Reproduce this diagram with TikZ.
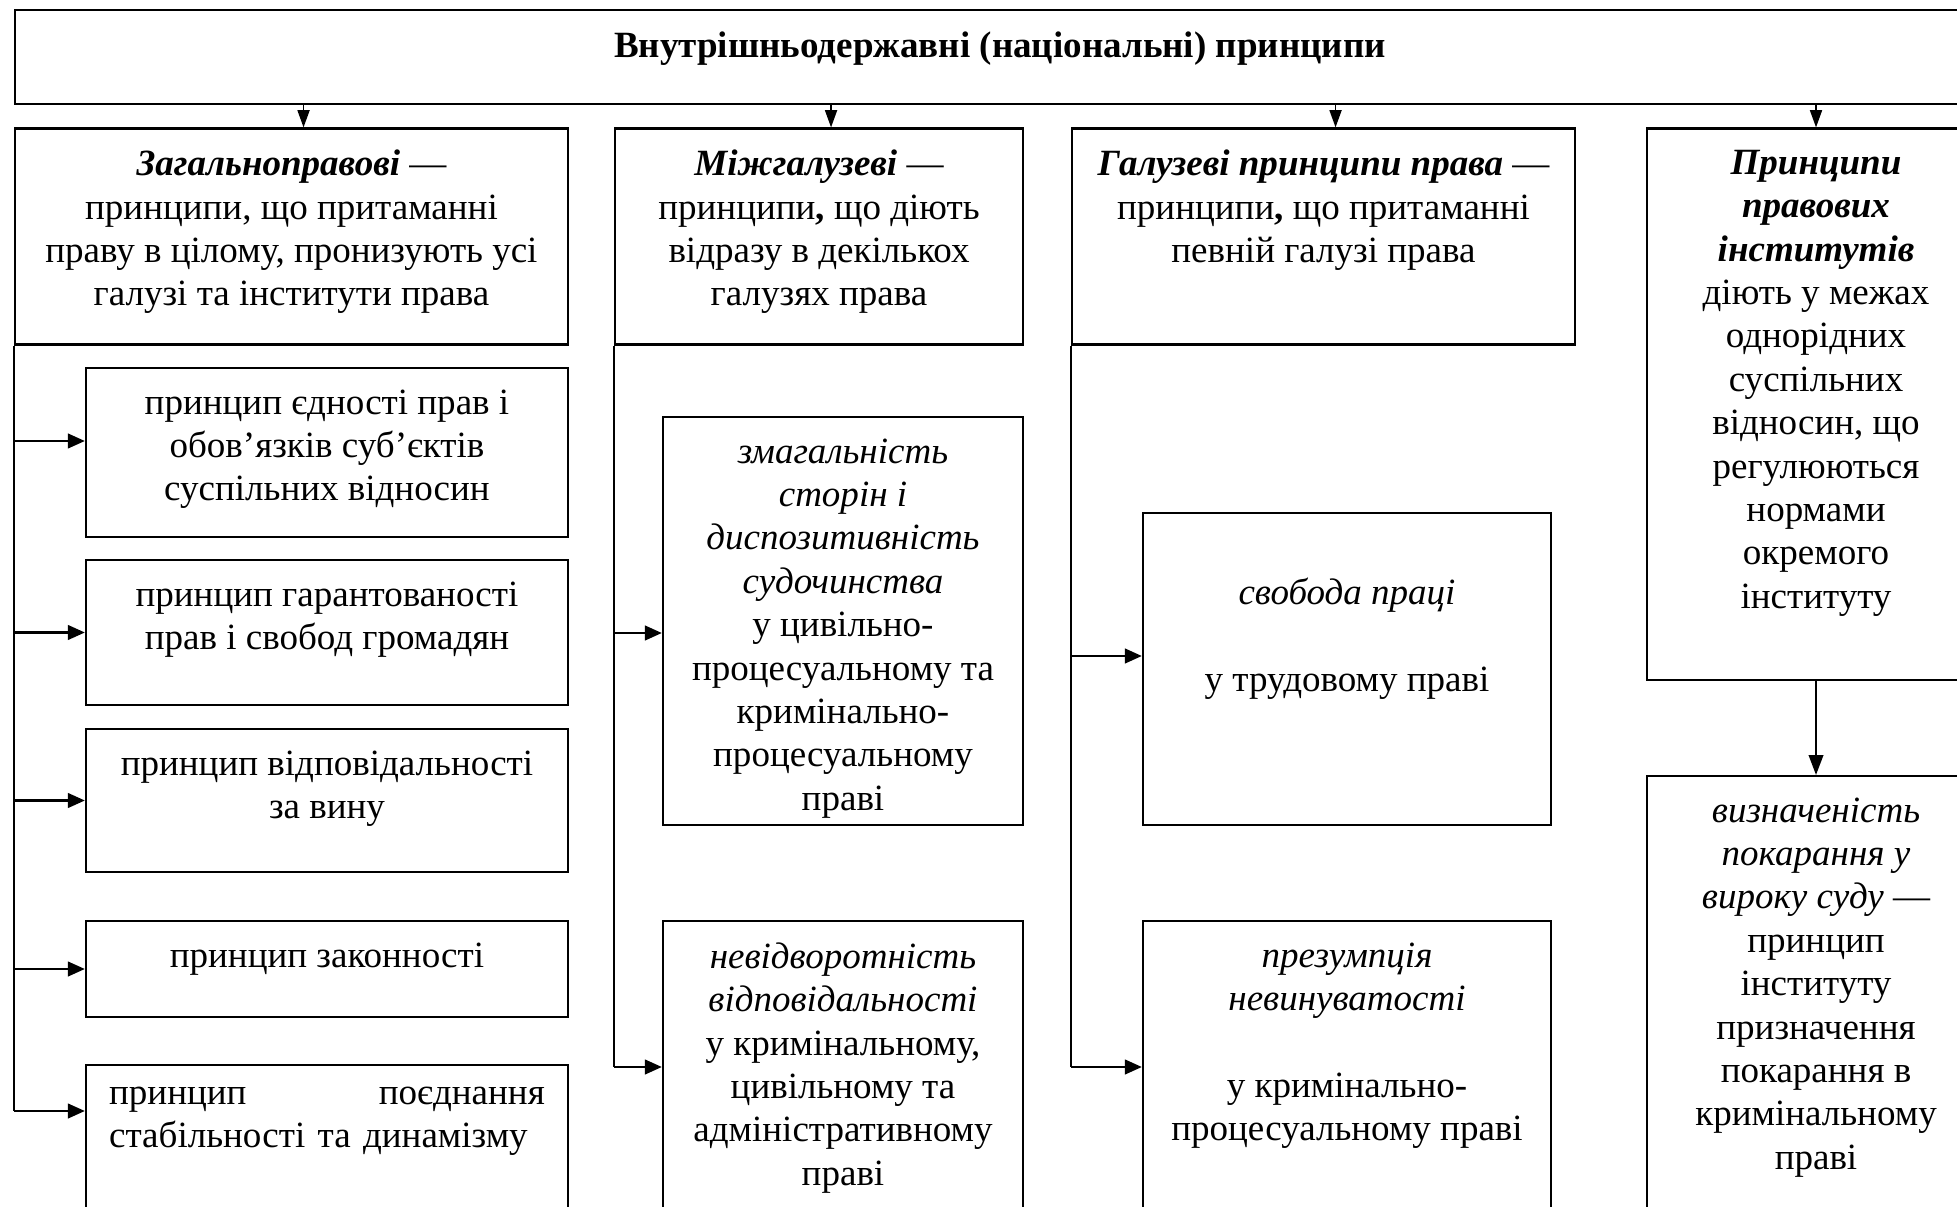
\documentclass[tikz,border=0pt]{standalone}
\usepackage{fontspec}
\setmainfont{Liberation Serif}
\usetikzlibrary{fit,arrows.meta}

\begin{document}
\begin{tikzpicture}[x=0.013286cm, y=-0.013286cm,
  box/.style={draw, line width=0.8pt, inner sep=0pt},
  txt/.style={inner sep=0pt, align=center, anchor=north, yshift=-8.4pt, font=\fontsize{14}{16.4}\selectfont},
  trunk/.style={line width=0.8pt},
  varr/.style={line width=0.7pt, -{Triangle[length=6.5pt,width=4.5pt]}},
  harr/.style={line width=1.1pt, -{Triangle[length=6.5pt,width=5.5pt]}}]
  \useasboundingbox (0,0) rectangle (1957,1207);
  \clip (0,0) rectangle (1957,1207);
  % header
  \node[box, fit={(15,10) (1985,104)}] (top) {};
  \node[txt] (topT) at (top.north) {\textbf{Внутрішньодержавні (національні) принципи}};
  % first row
  \node[box, fit={(15,128.5) (568,344.5)}] (gen) {};
  \node[box, fit={(615,128.5) (1023,344.5)}] (mizh) {};
  \node[box, fit={(1072,128.5) (1575,344.5)}] (gal) {};
  \node[box, fit={(1647,128.5) (1985,680)}] (inst) {};
  \node[txt] (genT) at (gen.north) {\textbf{\textit{Загальноправові}} —\\принципи, що притаманні\\праву в цілому, пронизують усі\\галузі та інститути права};
  \node[txt] (mizhT) at (mizh.north) {\textbf{\textit{Міжгалузеві}} —\\принципи\textbf{,} що діють\\відразу в декількох\\галузях права};
  \node[txt] (galT) at (gal.north) {\textbf{\textit{Галузеві принципи права}} —\\принципи\textbf{,} що притаманні\\певній галузі права};
  \node[txt] (instT) at (inst.north) {\textbf{\textit{Принципи}}\\\textbf{\textit{правових}}\\\textbf{\textit{інститутів}}\\діють у межах\\однорідних\\суспільних\\відносин, що\\регулюються\\нормами\\окремого\\інституту};
  % general principles
  \node[box, fit={(86,368) (568,537)}] (a1) {};
  \node[box, fit={(86,560) (568,705)}] (a2) {};
  \node[box, fit={(86,729) (568,872)}] (a3) {};
  \node[box, fit={(86,921) (568,1017)}] (a4) {};
  \node[box, fit={(86,1065) (568,1230)}] (a5) {};
  \node[txt] (a1T) at (a1.north) {принцип єдності прав і\\обов’язків суб’єктів\\суспільних відносин};
  \node[txt] (a2T) at (a2.north) {принцип гарантованості\\прав і свобод громадян};
  \node[txt] (a3T) at (a3.north) {принцип відповідальності\\за вину};
  \node[txt] (a4T) at (a4.north) {принцип законності};
  \node[txt, text width=5.79cm, align=left] (a5T) at (a5.north) {принцип \hfill поєднання\\стабільності та динамізму};
  % cross-branch principles
  \node[box, fit={(663,417) (1023,825)}] (b1) {};
  \node[box, fit={(663,921) (1023,1230)}] (b2) {};
  \node[txt] (b1T) at (b1.north) {\textit{змагальність}\\\textit{сторін і}\\\textit{диспозитивність}\\\textit{судочинства}\\у цивільно-\\процесуальному та\\кримінально-\\процесуальному\\праві};
  \node[txt] (b2T) at (b2.north) {\textit{невідворотність}\\\textit{відповідальності}\\у кримінальному,\\цивільному та\\адміністративному\\праві};
  % branch principles
  \node[box, fit={(1143,513) (1551,825)}] (c1) {};
  \node[box, fit={(1143,921) (1551,1230)}] (c2) {};
  \node[txt, yshift=-16.4pt] (c1T) at (c1.north) {\textit{свобода праці}\\[16.4pt]у трудовому праві};
  \node[txt] (c2T) at (c2.north) {\textit{презумпція}\\\textit{невинуватості}\\[16.4pt]у кримінально-\\процесуальному праві};
  % institute principles
  \node[box, fit={(1647,776) (1985,1230)}] (d2) {};
  \node[txt] (d2T) at (d2.north) {\textit{визначеність}\\\textit{покарання у}\\\textit{вироку суду} —\\принцип\\інституту\\призначення\\покарання в\\кримінальному\\праві};

  % arrows from header
  \coordinate (genIn) at ([xshift=0.16cm]gen.north);
  \coordinate (mizhIn) at ([xshift=0.16cm]mizh.north);
  \coordinate (galIn) at ([xshift=0.16cm]gal.north);
  \draw[varr] (genIn |- top.south) -- (genIn);
  \draw[varr] (mizhIn |- top.south) -- (mizhIn);
  \draw[varr] (galIn |- top.south) -- (galIn);
  \draw[varr] (inst.north |- top.south) -- (inst.north);
  \draw[varr, -{Triangle[length=7.5pt,width=5.5pt]}] (inst.south) -- (d2.north);

  % column trunks
  \coordinate (a1y) at (0,441);
  \coordinate (a5y) at (0,1111);
  \coordinate (b1y) at (0,633);
  \coordinate (b2y) at (0,1067);
  \coordinate (c1y) at (0,656);
  \coordinate (c2y) at (0,1067);
  \draw[trunk] (gen.south west) -- (gen.south west |- a5y);
  \draw[trunk] (mizh.south west) -- (mizh.south west |- b2y);
  \draw[trunk] (gal.south west) -- (gal.south west |- c2y);

  \draw[harr] (gen.south west |- a1y) -- (a1.west |- a1y);
  \draw[harr] (gen.south west |- a2.west) -- (a2.west);
  \draw[harr] (gen.south west |- a3.west) -- (a3.west);
  \draw[harr] (gen.south west |- a4.west) -- (a4.west);
  \draw[harr] (gen.south west |- a5y) -- (a5.west |- a5y);
  \draw[harr] (mizh.south west |- b1y) -- (b1.west |- b1y);
  \draw[harr] (mizh.south west |- b2y) -- (b2.west |- b2y);
  \draw[harr] (gal.south west |- c1y) -- (c1.west |- c1y);
  \draw[harr] (gal.south west |- c2y) -- (c2.west |- c2y);
\end{tikzpicture}
\end{document}
